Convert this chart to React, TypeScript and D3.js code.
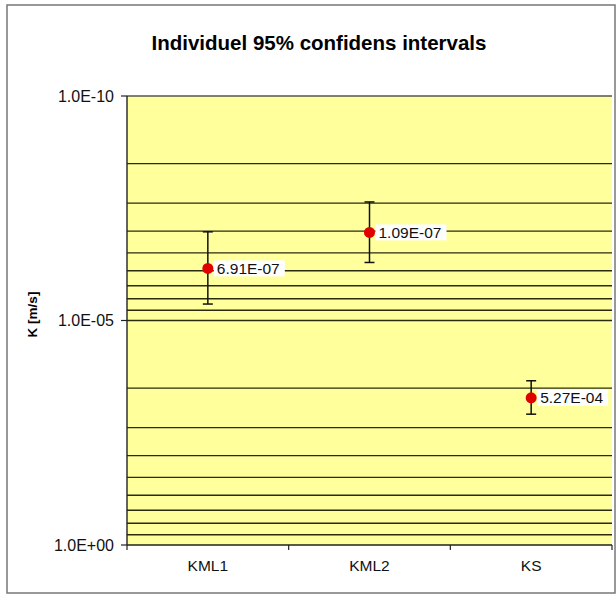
import React from 'react'
import * as d3 from 'd3'

// categories and values
const categories = ['KML1', 'KML2', 'KS']
const means = [6.91e-7, 1.09e-7, 5.27e-4]
const lower = [1.06e-7, 2.29e-8, 2.2e-4]
const upper = [4.3e-6, 5.1e-7, 1.22e-3]
const pointLabels = ['6.91E-07', '1.09E-07', '5.27E-04']

// y axis ticks (reversed log axis, labelled every 5 decades)
const tickValues = [1e-10, 1e-5, 1]
const tickLabels = ['1.0E-10', '1.0E-05', '1.0E+00']
const minorSteps = [2, 3, 4, 5, 6, 7, 8, 9]

const W = 616
const H = 595
const margin = { top: 96, right: 4, bottom: 50, left: 127 }
const FONT = '"Liberation Sans", Arial, sans-serif'

export default function App() {
  const innerBottom = H - margin.bottom
  const innerRight = W - margin.right

  const x = d3.scaleBand<string>()
    .domain(categories)
    .range([margin.left, innerRight])

  const y = d3.scaleLog()
    .domain([1e-10, 1])
    .range([margin.top, innerBottom])

  // minor gridlines sit at log10(k) of each 5-decade segment
  const gridValues: number[] = []
  tickValues.slice(0, -1).forEach(t => {
    gridValues.push(t)
    minorSteps.forEach(k => gridValues.push(t * Math.pow(k, 5)))
  })

  const cap = 5

  return (
    <svg
      width={W}
      height={H}
      style={{ position: 'absolute', left: 0, top: 0, background: '#fff' }}
      fontFamily={FONT}
    >
      {/* outer frame */}
      <rect x={7} y={5} width={W - 8} height={H - 7} fill="none" stroke="#777" strokeWidth={1.5} />

      <text x={319} y={50} textAnchor="middle" fontSize={20.5} fontWeight="bold" fill="#000">
        Individuel 95% confidens intervals
      </text>

      {/* plot area */}
      <rect
        x={margin.left}
        y={margin.top}
        width={innerRight - margin.left}
        height={innerBottom - margin.top}
        fill="#ffff9c"
      />

      {gridValues.map((v, i) => (
        <line
          key={'g' + i}
          x1={margin.left}
          x2={innerRight}
          y1={y(v)}
          y2={y(v)}
          stroke={i === 0 ? '#555' : '#2a2a12'}
          strokeWidth={1.4}
        />
      ))}

      {/* y axis */}
      <line x1={margin.left} x2={margin.left} y1={margin.top} y2={innerBottom} stroke="#222" strokeWidth={1.4} />
      {tickValues.map((v, i) => (
        <g key={'t' + i}>
          <line x1={margin.left - 6} x2={margin.left} y1={y(v)} y2={y(v)} stroke="#222" strokeWidth={1.2} />
          <text x={margin.left - 13} y={y(v)} dy="0.35em" textAnchor="end" fontSize={16} fill="#111">
            {tickLabels[i]}
          </text>
        </g>
      ))}
      <text
        transform={`translate(37,${(margin.top + innerBottom) / 2 - 6}) rotate(-90)`}
        textAnchor="middle"
        fontSize={13.5}
        fontWeight="bold"
        fill="#000"
      >
        K [m/s]
      </text>

      {/* x axis */}
      <line x1={margin.left} x2={innerRight} y1={innerBottom} y2={innerBottom} stroke="#222" strokeWidth={1.4} />
      {[...categories.map(c => x(c)!), innerRight].map((px, i) => (
        <line key={'xt' + i} x1={px} x2={px} y1={innerBottom} y2={innerBottom + 5} stroke="#222" strokeWidth={1.2} />
      ))}
      {categories.map(c => (
        <text
          key={c}
          x={x(c)! + x.bandwidth() / 2}
          y={innerBottom + 26}
          textAnchor="middle"
          fontSize={15.5}
          fill="#111"
        >
          {c}
        </text>
      ))}

      {/* error bars, points and labels */}
      {categories.map((c, i) => {
        const cx = x(c)! + x.bandwidth() / 2
        const cy = y(means[i])
        return (
          <g key={'p' + c}>
            <line x1={cx} x2={cx} y1={y(lower[i])} y2={y(upper[i])} stroke="#111" strokeWidth={1.5} />
            <line x1={cx - cap} x2={cx + cap} y1={y(lower[i])} y2={y(lower[i])} stroke="#111" strokeWidth={1.5} />
            <line x1={cx - cap} x2={cx + cap} y1={y(upper[i])} y2={y(upper[i])} stroke="#111" strokeWidth={1.5} />
            <rect x={cx + 6} y={cy - 8} width={71} height={16} fill="#fff" />
            <text x={cx + 9} y={cy} dy="0.36em" fontSize={15.5} fill="#111">
              {pointLabels[i]}
            </text>
            <circle cx={cx} cy={cy} r={5.5} fill="#e00000" />
          </g>
        )
      })}
    </svg>
  )
}
